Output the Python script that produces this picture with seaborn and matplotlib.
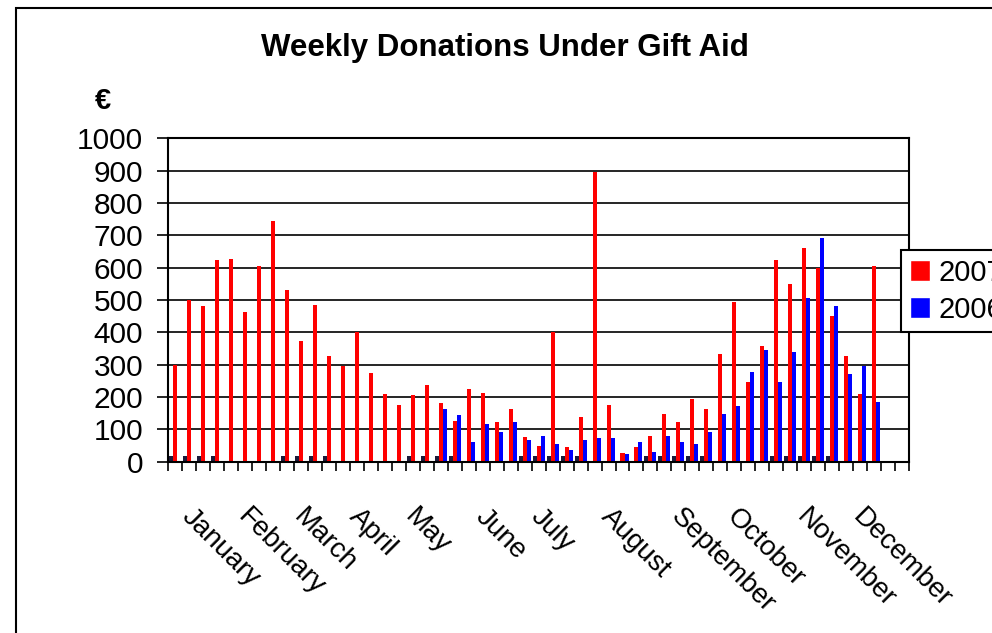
import numpy as np
import pandas as pd

import matplotlib
matplotlib.use('agg')
import matplotlib.pyplot as plt
from matplotlib.patches import Patch, Rectangle
import seaborn as sns

# weekly values (53 week slots, last two empty)
weeks = list(range(1, 54))
donations_2007 = [300, 500, 482, 624, 626, 463, 606, 743, 531, 372, 483, 327,
                  297, 402, 273, 209, 174, 205, 236, 180, 125, 224, 211, 123, 162, 75,
                  50, 402, 44, 137, 897, 174, 26, 44, 81, 147, 123, 193, 162,
                  333, 494, 246, 358, 624, 548, 661, 600, 451, 327, 209, 605,
                  None, None]
donations_2006 = [None] * 19 + [162, 143, 61, 116, 93, 123, 67,
                  81, 56, 36, 68, 74, 74, 24, 61, 30, 80, 62, 56, 92,
                  147, 172, 277, 345, 246, 340, 507, 692, 481, 271, 297, 185,
                  None, None]
marker_weeks = [1, 2, 3, 4, 9, 10, 11, 12, 18, 19, 20, 21, 26, 27, 28, 29, 30,
                35, 36, 37, 38, 39, 44, 45, 46, 47, 48]
marker_value = 18
month_names = ['January', 'February', 'March', 'April', 'May', 'June', 'July',
               'August', 'September', 'October', 'November', 'December']
month_weeks = [2, 6, 10, 14, 18, 23, 27, 32, 37, 41, 46, 50]


def build_frame():
    data = {'week': [], 'series': [], 'value': []}
    for i, w in enumerate(weeks):
        m = marker_value if w in marker_weeks else None
        for name, v in [('mark', m), ('2007', donations_2007[i]), ('2006', donations_2006[i])]:
            data['week'].append(w)
            data['series'].append(name)
            data['value'].append(np.nan if v is None else v)
    return pd.DataFrame(data)


def main():
    df = build_frame()
    sns.set_theme(style='white')
    plt.rcParams['font.family'] = ['Liberation Sans', 'DejaVu Sans']
    for k in ['text.color', 'axes.labelcolor', 'xtick.color', 'ytick.color']:
        plt.rcParams[k] = 'black'

    fig = plt.figure(figsize=(9.92, 6.33), dpi=100)
    ax = fig.add_axes([168.3 / 992, 1 - 461.7 / 633, (909 - 168.3) / 992, (461.7 - 138.3) / 633])

    colors = {'mark': '#1c1c3a', '2007': '#ff0000', '2006': '#0000ff'}
    sns.barplot(data=df, x='week', y='value', hue='series', order=weeks,
                hue_order=['mark', '2007', '2006'], palette=colors,
                width=0.86, errorbar=None, legend=False, ax=ax,
                saturation=1, linewidth=0)

    ax.set_xlim(-0.5, len(weeks) - 0.5)
    ax.set_ylim(0, 1000)
    ax.set_yticks(range(0, 1001, 100))
    ax.tick_params(axis='y', labelsize=21.5, length=8, width=1.2, pad=10, direction='out', left=True)
    ax.yaxis.grid(True, color='black', linewidth=1.2)
    ax.set_axisbelow(True)

    # boundary ticks between weeks, month names as minor ticks
    ax.set_xticks(np.arange(-0.5, len(weeks), 1))
    ax.set_xticklabels([])
    ax.tick_params(axis='x', which='major', length=6.5, width=1.2, direction='out', bottom=True)
    ax.set_xticks([weeks.index(w) + 0.4 for w in month_weeks], minor=True)
    ax.set_xticklabels(month_names, minor=True, rotation=-45, ha='left',
                       rotation_mode='anchor', fontsize=20)
    ax.tick_params(axis='x', which='minor', length=0, pad=30)
    for lab in ax.get_xticklabels(minor=True):
        lab.set_va('top')

    ax.set_xlabel('')
    ax.set_ylabel('')
    for s in ax.spines.values():
        s.set_color('black')
        s.set_linewidth(1.5)

    fig.text(505 / 992, 1 - 48 / 633, 'Weekly Donations Under Gift Aid',
             ha='center', va='center', fontsize=22.5, fontweight='bold')
    fig.text(103 / 992, 1 - 101 / 633, '€', ha='center', va='center',
             fontsize=21, fontweight='bold')

    handles = [Patch(facecolor=colors['2007']), Patch(facecolor=colors['2006'])]
    leg = fig.legend(handles, ['2007', '2006'], loc='upper left',
                     bbox_to_anchor=(901 / 992, 1 - 250 / 633), borderaxespad=0,
                     fontsize=21, frameon=True, fancybox=False, framealpha=1,
                     edgecolor='black', handlelength=0.7, handleheight=0.7,
                     handletextpad=0.3, labelspacing=0.3, borderpad=0.3)
    leg.get_frame().set_linewidth(1.5)

    fig.patches.append(Rectangle((16 / 992, -0.1), 1.2, 1 - 8 / 633 + 0.1,
                                 transform=fig.transFigure, fill=False,
                                 edgecolor='black', linewidth=1.5))

    fig.savefig('out.png', dpi=100, facecolor='white')
    plt.close('all')


if __name__ == '__main__':
    main()
